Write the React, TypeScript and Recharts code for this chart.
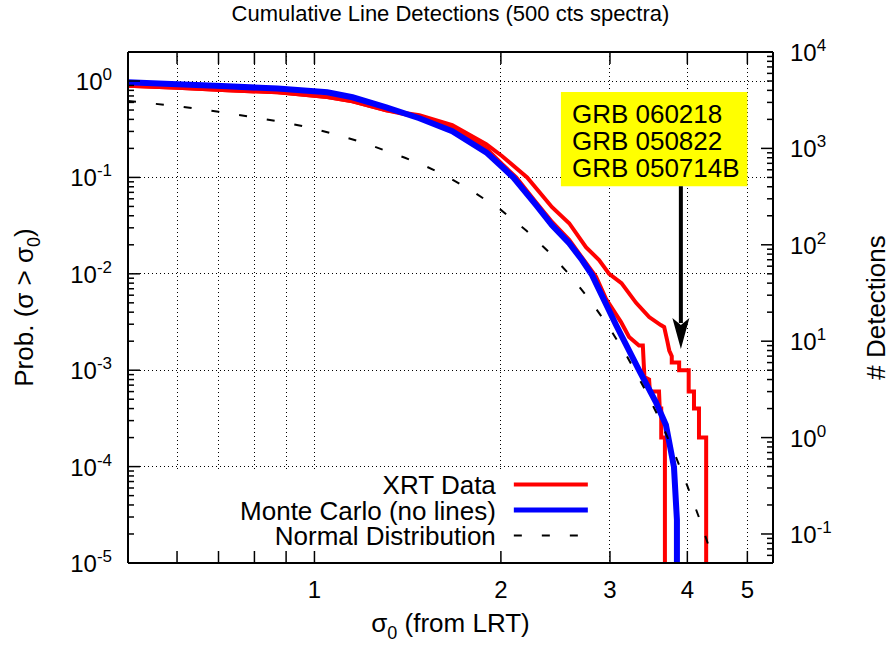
import React from 'react';
import { LineChart, Line, XAxis, YAxis, CartesianGrid, ReferenceArea, ReferenceLine } from 'recharts';

const FONT = '"Liberation Sans", Arial, Helvetica, sans-serif';

// XRT data: sigma_0 and cumulative probability P(sigma > sigma_0)
const xrtSigma = [0.5, 0.601, 0.724, 0.872, 1.049, 1.152, 1.306, 1.477, 1.669, 1.894, 2.01, 2.205, 2.419, 2.578, 2.744, 2.881, 2.991, 3.131, 3.306, 3.471, 3.624, 3.67, 3.713, 3.74, 3.775, 3.775, 3.88, 3.88, 4.02, 4.02, 4.1, 4.1, 4.177, 4.177, 4.29, 4.29];
const xrtProb = [0.892, 0.85, 0.801, 0.764, 0.683, 0.616, 0.497, 0.441, 0.348, 0.221, 0.166, 0.1, 0.0491, 0.0335, 0.0189, 0.0139, 0.01, 0.008, 0.005, 0.00356, 0.00294, 0.0028, 0.002, 0.0016, 0.0014, 0.0012, 0.0012, 0.001, 0.001, 0.0006, 0.0006, 0.0004, 0.0004, 0.0002, 0.0002, 0.00001];

// second red XRT curve (no legend entry), hugging the Monte Carlo one
const xrtLowSigma = [0.5, 0.601, 0.724, 0.872, 1.049, 1.152, 1.306, 1.477, 1.669, 1.894, 2.01, 2.117, 2.28, 2.419, 2.578, 2.849, 2.956, 3.126, 3.221, 3.342, 3.39, 3.41, 3.47, 3.48, 3.6, 3.61, 3.63, 3.63, 3.68, 3.68];
const xrtLowProb = [0.892, 0.85, 0.801, 0.764, 0.683, 0.616, 0.497, 0.42, 0.323, 0.2, 0.137, 0.1, 0.055, 0.0345, 0.0225, 0.0093, 0.0055, 0.00316, 0.00221, 0.0018, 0.0018, 0.00085, 0.0008, 0.0006, 0.0006, 0.0004, 0.0004, 0.0002, 0.0002, 0.00001];

// Monte Carlo (no lines)
const mcSigma = [0.5, 0.601, 0.724, 0.872, 1.049, 1.152, 1.306, 1.477, 1.669, 1.894, 2.01, 2.094, 2.28, 2.419, 2.578, 2.704, 2.807, 3.069, 3.342, 3.558, 3.694, 3.806, 3.848, 3.848];
const mcProb = [0.969, 0.924, 0.881, 0.834, 0.764, 0.678, 0.534, 0.411, 0.301, 0.182, 0.128, 0.1, 0.0515, 0.0319, 0.0208, 0.0139, 0.0097, 0.00294, 0.001, 0.000467, 0.00027, 0.000099, 0.000028, 0.00001];

// Normal distribution (dashed)
const normSigma = [0.5, 0.6, 0.7, 0.8, 0.9, 1.0, 1.1, 1.2, 1.3, 1.4, 1.5, 1.6, 1.7, 1.8, 1.9, 2.0, 2.2, 2.4, 2.6, 2.8, 3.0, 3.2, 3.4, 3.6, 3.8, 4.0, 4.2, 4.4, 4.42];
const normProb = [0.62, 0.55, 0.48, 0.42, 0.37, 0.32, 0.27, 0.23, 0.19, 0.16, 0.134, 0.11, 0.089, 0.072, 0.057, 0.046, 0.028, 0.0164, 0.0093, 0.0051, 0.0027, 0.00137, 0.00067, 0.00032, 0.000145, 0.000063, 0.000027, 0.000011, 0.00001];

const xTicks = [0.6, 0.7, 0.8, 0.9, 1, 2, 3, 4, 5];
const xTickLabels = [1, 2, 3, 4, 5];
const yDecades = [0.00001, 0.0001, 0.001, 0.01, 0.1, 1];
const y2Decades = [0.01, 0.1, 1, 10, 100, 1000, 10000];
const grbNames = ['GRB 060218', 'GRB 050822', 'GRB 050714B'];

const toPoints = (s: number[], p: number[]) => s.map((v, i) => ({ s: v, p: p[i] }));

const xrtData = toPoints(xrtSigma, xrtProb);
const xrtLowData = toPoints(xrtLowSigma, xrtLowProb);
const mcData = toPoints(mcSigma, mcProb);
const normData = toPoints(normSigma, normProb);

const minors = (decades: number[], lo: number, hi: number) => {
  const out: number[] = [];
  decades.forEach((d) => {
    for (let k = 1; k <= 9; k++) {
      const v = +(d * k).toPrecision(6);
      if (v >= lo && v <= hi) out.push(v);
    }
  });
  return out;
};
const yTicks = minors(yDecades, 0.00001, 1);
const y2Ticks = minors(y2Decades, 0.05, 10000);

const isDecade = (v: number) => Math.abs(Math.log10(v) - Math.round(Math.log10(v))) < 1e-6;
const expOf = (v: number) => String(Math.round(Math.log10(v)));

const Pow = ({ x, y, v, anchor }: any) => (
  <text x={x} y={y} textAnchor={anchor} fontSize={24} fontFamily={FONT} fill="#000">
    10<tspan dy={-10} fontSize={17}>{expOf(v)}</tspan>
  </text>
);

const LeftTick = ({ x, y, payload }: any) => {
  const major = isDecade(payload.value);
  return (
    <g>
      <line x1={x} y1={y} x2={x + (major ? 12 : 6)} y2={y} stroke="#000" strokeWidth={1.5} />
      {major && <Pow x={x - 16} y={y + 9} v={payload.value} anchor="end" />}
    </g>
  );
};

const RightTick = ({ x, y, payload }: any) => {
  const major = isDecade(payload.value);
  return (
    <g>
      <line x1={x} y1={y} x2={x - (major ? 12 : 6)} y2={y} stroke="#000" strokeWidth={1.5} />
      {major && <Pow x={x + 17} y={y + 9} v={payload.value} anchor="start" />}
    </g>
  );
};

const BottomTick = ({ x, y, payload }: any) => (
  <g>
    <line x1={x} y1={y} x2={x} y2={y - 12} stroke="#000" strokeWidth={1.5} />
    {xTickLabels.includes(payload.value) && (
      <text x={x} y={y + 35} textAnchor="middle" fontSize={24} fontFamily={FONT} fill="#000">
        {payload.value}
      </text>
    )}
  </g>
);

const TopTick = ({ x, y }: any) => (
  <line x1={x} y1={y} x2={x} y2={y + 12} stroke="#000" strokeWidth={1.5} />
);

const titleLabel = ({ viewBox }: any) => (
  <text x={viewBox.x + viewBox.width / 2} y={viewBox.y - 1} textAnchor="middle" fontSize={22} fontFamily={FONT} fill="#000">
    Cumulative Line Detections (500 cts spectra)
  </text>
);

const xLabel = ({ viewBox }: any) => (
  <text x={viewBox.x + viewBox.width / 2} y={viewBox.y + 69} textAnchor="middle" fontSize={26} fontFamily={FONT} fill="#000">
    σ<tspan dy={7} fontSize={18}>0</tspan>
    <tspan dy={-7}> (from LRT)</tspan>
  </text>
);

const yLabel = ({ viewBox }: any) => {
  const cx = 33;
  const cy = viewBox.y + viewBox.height / 2;
  return (
    <text x={cx} y={cy} transform={`rotate(-90, ${cx}, ${cy})`} textAnchor="middle" fontSize={26} fontFamily={FONT} fill="#000">
      Prob. (σ &gt; σ<tspan dy={7} fontSize={18}>0</tspan>
      <tspan dy={-7}>)</tspan>
    </text>
  );
};

const y2Label = ({ viewBox }: any) => {
  const cx = 885;
  const cy = viewBox.y + viewBox.height / 2;
  return (
    <text x={cx} y={cy} transform={`rotate(-90, ${cx}, ${cy})`} textAnchor="middle" fontSize={26} fontFamily={FONT} fill="#000">
      # Detections
    </text>
  );
};

const legendItems = [
  { name: 'XRT Data', color: '#ff0000', width: 4, dash: undefined },
  { name: 'Monte Carlo (no lines)', color: '#0000ff', width: 5, dash: undefined },
  { name: 'Normal Distribution', color: '#000000', width: 2, dash: '8 20' },
];

const legendBox = ({ viewBox }: any) => {
  const right = viewBox.x + viewBox.width;
  const top = viewBox.y;
  return (
    <g>
      {legendItems.map((it, i) => {
        const base = top + 23 + i * 25.5;
        return (
          <g key={it.name}>
            <text x={right - 105} y={base} textAnchor="end" fontSize={26} fontFamily={FONT} fill="#000">
              {it.name}
            </text>
            <line x1={right - 87} x2={right - 13} y1={base - 9.5} y2={base - 9.5} stroke={it.color} strokeWidth={it.width} strokeDasharray={it.dash} />
          </g>
        );
      })}
    </g>
  );
};

const grbBox = ({ viewBox }: any) => (
  <g>
    {grbNames.map((g, i) => (
      <text key={g} x={viewBox.x + 11} y={viewBox.y + 31 + i * 27} fontSize={26} fontFamily={FONT} fill="#000">
        {g}
      </text>
    ))}
  </g>
);

const arrowShape = ({ x1, y1, x2, y2 }: any) => (
  <g>
    <line x1={x1} y1={y1} x2={x2} y2={y2 - 26} stroke="#000" strokeWidth={4} />
    <polygon points={`${x2 - 8.5},${y2 - 31} ${x2},${y2 - 24} ${x2 + 8.5},${y2 - 31} ${x2},${y2}`} fill="#000" />
  </g>
);

export default function App() {
  return (
    <div style={{ position: 'absolute', left: 0, top: 0, width: 891, height: 649, background: '#fff', fontFamily: FONT }}>
      <LineChart width={891} height={649} margin={{ top: 22, right: 0, bottom: 0, left: 0 }}>
        <CartesianGrid
          horizontalValues={yDecades.slice(1)}
          verticalValues={xTicks}
          stroke="#000"
          strokeDasharray="1 3"
          strokeWidth={1}
          shapeRendering="crispEdges"
        />
        <XAxis
          dataKey="s"
          type="number"
          scale="log"
          domain={[0.5, 5.5]}
          allowDataOverflow
          ticks={xTicks}
          interval={0}
          tick={BottomTick}
          tickLine={false}
          tickSize={0}
          tickMargin={0}
          height={86}
          axisLine={{ stroke: '#000', strokeWidth: 2 }}
          label={xLabel}
        />
        <XAxis
          xAxisId="top"
          orientation="top"
          dataKey="s"
          type="number"
          scale="log"
          domain={[0.5, 5.5]}
          allowDataOverflow
          ticks={xTicks}
          interval={0}
          tick={TopTick}
          tickLine={false}
          tickSize={0}
          tickMargin={0}
          height={30}
          axisLine={{ stroke: '#000', strokeWidth: 2 }}
          label={titleLabel}
        />
        <YAxis
          dataKey="p"
          type="number"
          scale="log"
          domain={[0.00001, 2]}
          allowDataOverflow
          ticks={yTicks}
          interval={0}
          tick={LeftTick}
          tickLine={false}
          tickSize={0}
          tickMargin={0}
          width={128}
          axisLine={{ stroke: '#000', strokeWidth: 2 }}
          label={yLabel}
        />
        <YAxis
          yAxisId="right"
          orientation="right"
          type="number"
          scale="log"
          domain={[0.05, 10000]}
          allowDataOverflow
          ticks={y2Ticks}
          interval={0}
          tick={RightTick}
          tickLine={false}
          tickSize={0}
          tickMargin={0}
          width={118}
          axisLine={{ stroke: '#000', strokeWidth: 2 }}
          label={y2Label}
        />
        <ReferenceArea x1={0.5} x2={2.9} y1={0.00001} y2={0.00009} fill="#ffffff" fillOpacity={1} stroke="none" ifOverflow="visible" label={legendBox} />
        <ReferenceArea x1={2.5} x2={5.0} y1={0.081} y2={0.77} fill="#ffff00" fillOpacity={1} stroke="none" ifOverflow="visible" label={grbBox} />
        <Line data={xrtData} dataKey="p" stroke="#ff0000" strokeWidth={4} dot={false} activeDot={false} isAnimationActive={false} />
        <Line data={xrtLowData} dataKey="p" stroke="#ff0000" strokeWidth={4} dot={false} activeDot={false} isAnimationActive={false} />
        <Line data={mcData} dataKey="p" stroke="#0000ff" strokeWidth={6} dot={false} activeDot={false} isAnimationActive={false} />
        <Line data={normData} dataKey="p" stroke="#000" strokeWidth={2} strokeDasharray="8 20" dot={false} activeDot={false} isAnimationActive={false} />
        <ReferenceLine segment={[{ x: 3.905, y: 0.081 }, { x: 3.905, y: 0.00166 }]} ifOverflow="visible" shape={arrowShape} />
      </LineChart>
    </div>
  );
}
